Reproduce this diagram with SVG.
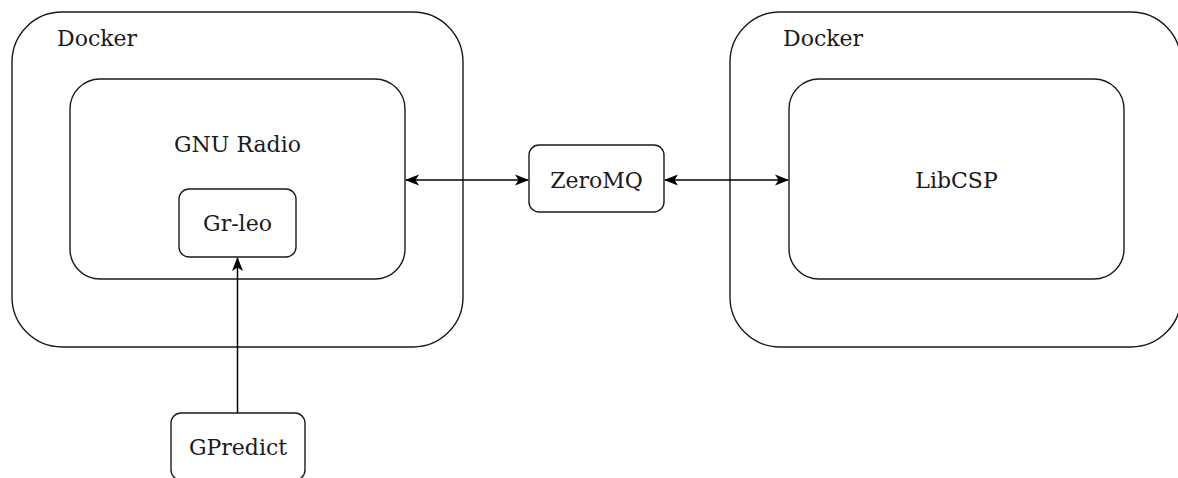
<svg xmlns="http://www.w3.org/2000/svg" width="1178" height="478" viewBox="0 0 1178 478">
<style>
.box{fill:#fff;stroke:#1a1a1a;stroke-width:1.4}
.lbl{font-family:'DejaVu Serif','Liberation Serif',serif;font-size:22px;fill:#1a1a1a}
.c{text-anchor:middle}
.edge{fill:none;stroke:#000;stroke-width:1.5}
</style>
<defs>
<marker id="ah" viewBox="0 0 14 14" refX="13" refY="7" markerWidth="14" markerHeight="14" markerUnits="userSpaceOnUse" orient="auto-start-reverse">
<path d="M0,1.5 L14,7 L0,12.5 L3.5,7 Z" fill="#000"/>
</marker>
</defs>
<rect width="1178" height="478" fill="#fff"/>
<g id="docker-left">
<rect class="box" x="12" y="12" width="451" height="335" rx="50" ry="50"/>
<text class="lbl" x="57" y="46">Docker</text>
</g>
<g id="docker-right">
<rect class="box" x="730" y="12" width="451" height="335" rx="50" ry="50"/>
<text class="lbl" x="783" y="46">Docker</text>
</g>
<g id="gnuradio">
<rect class="box" x="70" y="79" width="335" height="200" rx="30" ry="30"/>
<text class="lbl c" x="237.5" y="152">GNU Radio</text>
</g>
<g id="grleo">
<rect class="box" x="179" y="189" width="117" height="68" rx="10" ry="10"/>
<text class="lbl c" x="237.5" y="231">Gr-leo</text>
</g>
<g id="zeromq">
<rect class="box" x="529" y="145" width="135" height="67" rx="10" ry="10"/>
<text class="lbl c" x="596.5" y="188">ZeroMQ</text>
</g>
<g id="libcsp">
<rect class="box" x="789" y="79" width="335" height="200" rx="30" ry="30"/>
<text class="lbl c" x="956.5" y="188">LibCSP</text>
</g>
<g id="gpredict">
<rect class="box" x="171" y="413" width="134" height="67" rx="10" ry="10"/>
<text class="lbl c" x="238" y="455">GPredict</text>
</g>
<g id="connectors">
<line class="edge" x1="406" y1="180" x2="528" y2="180" marker-start="url(#ah)" marker-end="url(#ah)"/>
<line class="edge" x1="665" y1="180" x2="788" y2="180" marker-start="url(#ah)" marker-end="url(#ah)"/>
<line class="edge" x1="237.5" y1="413" x2="237.5" y2="258" marker-end="url(#ah)"/>
</g>
</svg>
